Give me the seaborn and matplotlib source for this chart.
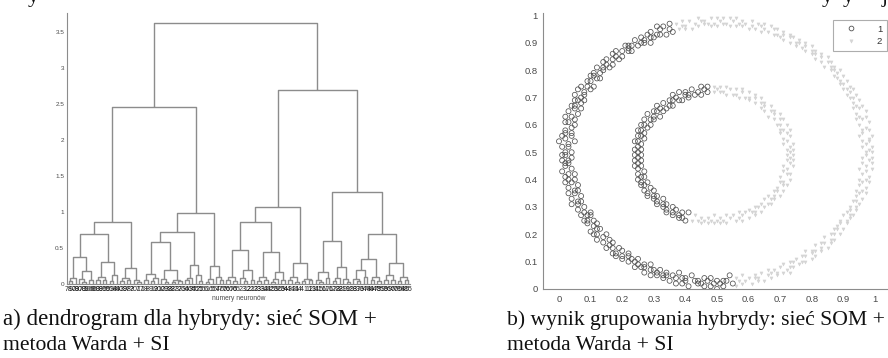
import matplotlib
matplotlib.use("Agg")
import matplotlib.pyplot as plt
from matplotlib.lines import Line2D
import seaborn as sns
import pandas as pd

# ---------------- data: dendrogram (Ward merges, heights) ----
L = None  # a leaf (one SOM neuron)
tree_A = (0.86,
          (0.70,
           (0.38, (0.08, (0.04, L, L), L), (0.18, (0.07, L, (0.03, L, L)), (0.05, L, L))),
           (0.31, (0.10, (0.05, L, L), (0.06, L, L)), (0.13, (0.04, L, L), L))),
          (0.22, (0.08, (0.04, L, L), (0.05, L, L)), (0.06, L, (0.03, L, L))))
tree_B = (0.99,
          (0.72,
           (0.58, (0.14, (0.05, L, L), (0.08, (0.04, L, L), L)),
                  (0.20, (0.07, L, (0.03, L, L)), (0.06, (0.03, L, L), (0.04, L, L)))),
           (0.27, (0.09, (0.05, L, L), L), (0.12, L, (0.04, L, L)))),
          (0.25, (0.07, (0.03, L, L), L), (0.10, L, (0.05, L, L))))
tree_C = (1.07,
          (0.86,
           (0.47, (0.10, (0.05, L, L), (0.04, L, L)), (0.19, (0.08, L, (0.04, L, L)), (0.06, L, L))),
           (0.44, (0.10, (0.04, L, L), (0.06, L, L)), (0.16, (0.07, (0.03, L, L), L), (0.05, L, L)))),
          (0.29, (0.10, (0.05, L, L), (0.03, L, L)), (0.07, (0.04, L, L), (0.05, L, L))))
tree_D = (1.28,
          (0.60, (0.17, (0.06, L, (0.03, L, L)), (0.08, L, L)),
                 (0.23, (0.09, (0.04, L, L), L), (0.07, L, (0.03, L, L)))),
          (0.69,
           (0.35, (0.20, (0.07, L, (0.04, L, L)), (0.10, L, L)), (0.10, (0.05, L, L), (0.04, L, L))),
           (0.29, (0.12, (0.05, L, L), (0.06, L, L)), (0.10, (0.04, L, L), (0.05, L, L)))))
h_left, h_right, h_root = 2.45, 2.69, 3.62

leaf_labels = [78, 90, 79, 80, 70, 89, 100, 69, 60, 88,
               99, 59, 50, 98, 49, 40, 39, 97, 87, 30,
               7, 17, 18, 8, 9, 19, 20, 10, 29, 38,
               28, 27, 37, 26, 36, 46, 35, 45, 25, 15,
               6, 16, 5, 57, 47, 67, 56, 66, 76, 65,
               2, 3, 12, 22, 13, 23, 33, 32, 43, 42,
               53, 52, 63, 54, 44, 34, 24, 14, 4, 1,
               11, 21, 31, 41, 51, 61, 71, 62, 72, 82,
               81, 91, 92, 93, 83, 73, 64, 74, 84, 94,
               75, 85, 95, 86, 96, 77, 68, 58, 48, 55]
y_ticks_a = [0, 0.5, 1, 1.5, 2, 2.5, 3, 3.5]
y_tick_labels_a = ["0", "0.5", "1", "1.5", "2", "2.5", "3", "3.5"]

# ---------------- data: clustering result ----------
grupa1_zewn = [
    (0.36,0.94),(0.34,0.93),(0.32,0.93),(0.30,0.92),(0.29,0.90),(0.27,0.90),(0.25,0.89),(0.23,0.87),
    (0.22,0.87),(0.20,0.85),(0.19,0.84),(0.17,0.82),(0.16,0.81),(0.14,0.80),(0.13,0.77),(0.12,0.77),
    (0.11,0.74),(0.10,0.73),(0.08,0.71),(0.08,0.69),(0.07,0.68),(0.07,0.66),(0.06,0.64),(0.05,0.62),
    (0.05,0.60),(0.04,0.57),(0.04,0.56),(0.05,0.54),(0.03,0.52),(0.04,0.50),
    (0.35,0.97),(0.33,0.96),(0.31,0.96),(0.29,0.94),(0.28,0.93),(0.26,0.92),(0.24,0.91),(0.22,0.89),
    (0.21,0.89),(0.18,0.87),(0.17,0.86),(0.15,0.84),(0.14,0.83),(0.12,0.81),(0.11,0.79),(0.10,0.78),
    (0.09,0.76),(0.07,0.74),(0.06,0.73),(0.05,0.71),(0.05,0.69),(0.04,0.67),(0.03,0.65),(0.02,0.63),
    (0.02,0.61),(0.02,0.58),(0.01,0.56),(0.00,0.54),(0.01,0.52),(0.01,0.49),
    (0.04,0.48),(0.03,0.46),(0.04,0.44),(0.05,0.42),(0.05,0.40),(0.06,0.38),(0.06,0.36),(0.07,0.34),
    (0.07,0.32),(0.08,0.30),(0.10,0.28),(0.10,0.27),(0.11,0.25),(0.12,0.24),(0.13,0.22),(0.15,0.20),
    (0.16,0.18),(0.17,0.17),(0.19,0.15),(0.20,0.14),(0.22,0.13),(0.23,0.11),(0.25,0.11),(0.27,0.09),
    (0.29,0.09),(0.30,0.07),(0.32,0.07),(0.34,0.06),(0.36,0.05),(0.38,0.06),(0.40,0.04),(0.42,0.05),
    (0.44,0.03),(0.46,0.04),(0.48,0.04),(0.50,0.03),
    (0.01,0.47),(0.02,0.46),(0.01,0.43),(0.02,0.41),(0.02,0.39),(0.03,0.37),(0.03,0.35),(0.04,0.33),
    (0.04,0.31),(0.06,0.29),(0.07,0.27),(0.08,0.25),(0.09,0.24),(0.10,0.21),(0.11,0.20),(0.12,0.18),
    (0.14,0.17),(0.15,0.15),(0.17,0.13),(0.18,0.12),(0.20,0.11),(0.22,0.10),(0.24,0.08),(0.26,0.08),
    (0.27,0.06),(0.29,0.05),(0.31,0.05),(0.33,0.04),(0.35,0.03),(0.37,0.02),(0.39,0.02),(0.41,0.01),
    (0.44,0.02),(0.46,0.01),(0.48,0.01),(0.50,0.00),
    (0.52,0.03),(0.54,0.05),(0.52,0.01),(0.55,0.02)]
grupa1_zewn_srodek = [
    (0.35,0.95),(0.32,0.95),(0.31,0.93),(0.29,0.92),(0.27,0.91),(0.26,0.90),(0.23,0.89),(0.22,0.88),
    (0.20,0.87),(0.18,0.85),(0.17,0.84),(0.15,0.82),(0.14,0.81),(0.13,0.79),(0.11,0.78),(0.10,0.76),
    (0.09,0.74),(0.08,0.72),(0.07,0.70),(0.06,0.69),(0.05,0.67),(0.05,0.66),(0.04,0.63),(0.03,0.61),
    (0.04,0.59),(0.02,0.57),(0.02,0.55),(0.03,0.53),(0.02,0.50),(0.02,0.49),
    (0.03,0.47),(0.02,0.45),(0.03,0.42),(0.03,0.40),(0.04,0.39),(0.05,0.36),(0.05,0.35),(0.06,0.32),
    (0.06,0.31),(0.08,0.28),(0.09,0.27),(0.09,0.25),(0.11,0.23),(0.12,0.22),(0.12,0.20),(0.14,0.19),
    (0.16,0.16),(0.17,0.15),(0.18,0.13),(0.20,0.12),(0.22,0.12),(0.24,0.10),(0.25,0.09),(0.27,0.08),
    (0.29,0.07),(0.31,0.06),(0.33,0.05),(0.34,0.05),(0.37,0.04),(0.39,0.04),(0.40,0.03),(0.43,0.03),
    (0.45,0.02),(0.47,0.03),(0.49,0.02),(0.51,0.02),(0.53,0.03)]
grupa1_wewn = [
    (0.47,0.72),(0.45,0.71),(0.43,0.71),(0.41,0.70),(0.39,0.69),(0.38,0.69),(0.36,0.67),(0.34,0.66),
    (0.33,0.65),(0.32,0.63),(0.30,0.62),(0.29,0.60),(0.28,0.59),(0.27,0.57),(0.27,0.55),(0.26,0.53),
    (0.26,0.51),(0.26,0.49),
    (0.47,0.74),(0.45,0.74),(0.42,0.73),(0.40,0.72),(0.38,0.72),(0.36,0.71),(0.35,0.69),(0.33,0.68),
    (0.31,0.67),(0.30,0.65),(0.28,0.64),(0.27,0.62),(0.26,0.60),(0.25,0.58),(0.25,0.56),(0.24,0.54),
    (0.24,0.51),(0.24,0.49),
    (0.26,0.47),(0.26,0.45),(0.27,0.43),(0.27,0.41),(0.28,0.39),(0.29,0.37),(0.30,0.36),(0.31,0.34),
    (0.33,0.33),(0.34,0.31),(0.36,0.30),(0.37,0.29),(0.39,0.28),(0.41,0.28),
    (0.24,0.47),(0.24,0.45),(0.25,0.42),(0.25,0.40),(0.26,0.38),(0.27,0.36),(0.28,0.34),(0.30,0.33),
    (0.31,0.31),(0.33,0.30),(0.34,0.28),(0.36,0.27),(0.38,0.26),(0.40,0.25)]
grupa1_wewn_srodek = [
    (0.46,0.73),(0.44,0.72),(0.41,0.71),(0.40,0.71),(0.37,0.70),(0.36,0.69),(0.35,0.67),(0.32,0.66),
    (0.31,0.65),(0.30,0.63),(0.29,0.62),(0.27,0.60),(0.26,0.58),(0.26,0.56),(0.25,0.54),(0.25,0.52),
    (0.25,0.50),(0.25,0.48),
    (0.25,0.46),(0.25,0.44),(0.26,0.41),(0.26,0.39),(0.27,0.38),(0.28,0.35),(0.30,0.34),(0.31,0.32),
    (0.33,0.31),(0.34,0.29),(0.36,0.28),(0.38,0.27),(0.39,0.26)]
grupa2_zewn = [
    (0.56,0.04),(0.58,0.05),(0.60,0.04),(0.62,0.05),(0.64,0.06),(0.66,0.07),(0.68,0.07),(0.70,0.08),
    (0.71,0.09),(0.73,0.10),(0.75,0.11),(0.77,0.12),(0.78,0.14),(0.80,0.14),(0.81,0.16),(0.83,0.17),
    (0.84,0.19),(0.86,0.20),(0.87,0.22),(0.88,0.23),(0.89,0.25),(0.90,0.27),(0.91,0.28),(0.92,0.30),
    (0.93,0.32),(0.94,0.34),(0.94,0.36),(0.95,0.38),(0.95,0.40),(0.96,0.42),(0.95,0.44),(0.96,0.46),
    (0.96,0.48),(0.97,0.50),
    (0.56,0.01),(0.58,0.02),(0.61,0.02),(0.63,0.03),(0.65,0.03),(0.67,0.04),(0.69,0.05),(0.71,0.06),
    (0.73,0.06),(0.74,0.08),(0.76,0.09),(0.78,0.10),(0.80,0.11),(0.81,0.12),(0.83,0.14),(0.85,0.15),
    (0.86,0.17),(0.87,0.18),(0.89,0.20),(0.90,0.22),(0.91,0.24),(0.92,0.26),(0.93,0.27),(0.94,0.29),
    (0.95,0.31),(0.96,0.33),(0.97,0.35),(0.97,0.37),(0.98,0.39),(0.98,0.41),(0.99,0.44),(0.99,0.46),
    (0.99,0.48),(0.99,0.50),
    (0.96,0.52),(0.96,0.54),(0.95,0.56),(0.96,0.58),(0.95,0.60),(0.94,0.62),(0.94,0.64),(0.93,0.66),
    (0.93,0.68),(0.92,0.70),(0.91,0.71),(0.90,0.73),(0.89,0.75),(0.88,0.77),(0.87,0.78),(0.86,0.80),
    (0.84,0.81),(0.83,0.83),(0.81,0.84),(0.80,0.86),(0.78,0.87),(0.77,0.88),(0.75,0.89),(0.73,0.90),
    (0.71,0.91),(0.70,0.92),(0.68,0.93),(0.66,0.94),(0.64,0.94),(0.62,0.95),(0.60,0.95),(0.58,0.96),
    (0.56,0.96),(0.54,0.96),(0.52,0.97),(0.50,0.96),
    (0.99,0.52),(0.98,0.54),(0.99,0.56),(0.98,0.58),(0.98,0.61),(0.97,0.63),(0.97,0.65),(0.96,0.67),
    (0.95,0.69),(0.94,0.71),(0.93,0.73),(0.92,0.74),(0.91,0.76),(0.90,0.78),(0.89,0.80),(0.87,0.81),
    (0.86,0.83),(0.85,0.85),(0.83,0.86),(0.81,0.87),(0.80,0.89),(0.78,0.90),(0.76,0.91),(0.74,0.92),
    (0.73,0.93),(0.71,0.94),(0.69,0.95),(0.67,0.96),(0.65,0.97),(0.63,0.97),(0.61,0.98),(0.58,0.98),
    (0.56,0.99),(0.54,0.99),(0.52,0.99),(0.50,0.99),
    (0.48,0.96),(0.46,0.97),(0.44,0.96),(0.42,0.95),(0.40,0.95),(0.38,0.95),
    (0.48,0.99),(0.46,0.98),(0.44,0.99),(0.41,0.98),(0.39,0.98),(0.37,0.97)]
grupa2_zewn_srodek = [
    (0.57,0.03),(0.59,0.03),(0.62,0.04),(0.63,0.04),(0.66,0.05),(0.67,0.06),(0.69,0.06),(0.72,0.07),
    (0.73,0.08),(0.74,0.10),(0.77,0.10),(0.78,0.12),(0.80,0.13),(0.81,0.14),(0.83,0.15),(0.84,0.17),
    (0.86,0.18),(0.87,0.20),(0.88,0.22),(0.89,0.24),(0.91,0.25),(0.92,0.27),(0.92,0.29),(0.94,0.30),
    (0.94,0.32),(0.95,0.35),(0.96,0.36),(0.96,0.39),(0.97,0.40),(0.97,0.43),(0.97,0.45),(0.98,0.47),
    (0.97,0.49),(0.98,0.51),
    (0.97,0.53),(0.98,0.55),(0.96,0.57),(0.97,0.59),(0.96,0.62),(0.95,0.63),(0.95,0.66),(0.94,0.67),
    (0.93,0.70),(0.92,0.72),(0.91,0.73),(0.90,0.75),(0.89,0.76),(0.88,0.79),(0.87,0.80),(0.86,0.81),
    (0.85,0.83),(0.83,0.85),(0.81,0.86),(0.80,0.87),(0.78,0.89),(0.76,0.90),(0.75,0.90),(0.73,0.92),
    (0.71,0.93),(0.69,0.93),(0.68,0.95),(0.65,0.95),(0.64,0.96),(0.61,0.96),(0.59,0.97),(0.57,0.97),
    (0.55,0.98),(0.53,0.97),(0.51,0.98),(0.49,0.97),
    (0.47,0.97),(0.45,0.98),(0.43,0.97),(0.40,0.96),(0.39,0.96)]
grupa2_wewn = [
    (0.43,0.27),(0.45,0.26),(0.47,0.26),(0.49,0.27),(0.51,0.26),(0.53,0.27),(0.55,0.27),(0.57,0.28),
    (0.59,0.28),(0.60,0.29),(0.62,0.30),(0.64,0.31),(0.65,0.33),(0.66,0.34),(0.68,0.36),(0.69,0.37),
    (0.70,0.39),(0.70,0.41),(0.71,0.43),(0.71,0.45),(0.72,0.47),(0.72,0.49),(0.72,0.51),(0.71,0.53),
    (0.71,0.55),(0.70,0.57),(0.70,0.58),(0.69,0.60),(0.68,0.62),(0.66,0.63),(0.65,0.65),(0.64,0.66),
    (0.62,0.68),(0.60,0.69),(0.59,0.70),(0.57,0.70),(0.55,0.71),(0.53,0.71),(0.51,0.72),(0.49,0.72),
    (0.42,0.25),(0.45,0.24),(0.47,0.24),(0.49,0.24),(0.51,0.24),(0.53,0.24),(0.56,0.25),(0.58,0.25),
    (0.60,0.26),(0.62,0.27),(0.64,0.28),(0.65,0.30),(0.67,0.31),(0.68,0.33),(0.70,0.34),(0.71,0.36),
    (0.72,0.38),(0.73,0.40),(0.73,0.42),(0.74,0.45),(0.74,0.47),(0.74,0.49),(0.74,0.51),(0.74,0.53),
    (0.73,0.56),(0.73,0.58),(0.72,0.60),(0.71,0.62),(0.70,0.64),(0.68,0.65),(0.67,0.67),(0.65,0.68),
    (0.64,0.70),(0.62,0.71),(0.60,0.72),(0.58,0.73),(0.56,0.73),(0.53,0.74),(0.51,0.74),(0.49,0.74)]
grupa2_wewn_srodek = [
    (0.44,0.25),(0.46,0.25),(0.48,0.25),(0.50,0.25),(0.52,0.25),(0.54,0.26),(0.57,0.26),(0.58,0.27),
    (0.61,0.28),(0.62,0.28),(0.63,0.30),(0.66,0.31),(0.67,0.33),(0.68,0.34),(0.69,0.36),(0.71,0.38),
    (0.71,0.39),(0.72,0.42),(0.72,0.44),(0.73,0.46),(0.73,0.48),(0.73,0.50),(0.73,0.52),(0.72,0.54),
    (0.72,0.57),(0.71,0.58),(0.70,0.60),(0.70,0.62),(0.68,0.64),(0.67,0.65),(0.65,0.67),(0.64,0.68),
    (0.62,0.70),(0.60,0.70),(0.58,0.72),(0.56,0.71),(0.54,0.73),(0.52,0.72),(0.50,0.73)]
xy_ticks_b = [0, 0.1, 0.2, 0.3, 0.4, 0.5, 0.6, 0.7, 0.8, 0.9, 1]
xy_tick_labels_b = ["0", "0.1", "0.2", "0.3", "0.4", "0.5", "0.6", "0.7", "0.8", "0.9", "1"]
legend_labels = ["1", "2"]

caption_a = ["a) dendrogram dla hybrydy: sieć SOM +", "metoda Warda + SI"]
caption_b = ["b) wynik grupowania hybrydy: sieć SOM +", "metoda Warda + SI"]
# descender fragments of the cut-off text line above the figure
fragments_top = ["y", "y", "y", "j"]

# ---------------- style ---------------------------------------------------------
sns.set_style("white")
plt.rcParams["font.family"] = ["Liberation Sans", "DejaVu Sans"]
TXT = "#4a4a4a"
LINE = "#8c8c8c"

fig = plt.figure(figsize=(8.88, 3.58), dpi=100)
fig.patch.set_facecolor("white")

# ---------------- (a) dendrogram -----------------------------------------------
ax1 = fig.add_axes([67 / 888, 1 - 284 / 358, 343 / 888, 271 / 358])
root = (h_root, (h_left, tree_A, tree_B), (h_right, tree_C, tree_D))
xs, ys = [], []
counter = [0]


def walk(node):
    if node is None:
        counter[0] += 1
        return float(counter[0]), 0.0
    h, left, right = node
    xl, hl = walk(left)
    xr, hr = walk(right)
    xs.extend([xl, xl, xr, xr, None])
    ys.extend([hl, h, h, hr, None])
    return (xl + xr) / 2.0, h


walk(root)
ax1.plot(xs, ys, color=LINE, lw=1.0, solid_capstyle="butt")
ax1.set_xlim(0.5, len(leaf_labels) + 0.5)
ax1.set_ylim(0, 3.76)
ax1.set_xticks(range(1, len(leaf_labels) + 1))
ax1.set_xticklabels([str(v) for v in leaf_labels], fontsize=5.0, color="#222222")
ax1.tick_params(axis="x", length=0, pad=1.2)
ax1.set_yticks(y_ticks_a)
ax1.set_yticklabels(y_tick_labels_a, fontsize=4.6, color=TXT)
ax1.tick_params(axis="y", length=2.5, width=0.6, color=LINE, direction="in", pad=2)
ax1.set_xlabel("numery neuronów", fontsize=4.8, color=TXT, labelpad=1.5)
for s in ["top", "right"]:
    ax1.spines[s].set_visible(False)
for s in ["left", "bottom"]:
    ax1.spines[s].set_color(LINE)
    ax1.spines[s].set_linewidth(0.8)

# ---------------- (b) scatter ----------------------------------------------------
ax2 = fig.add_axes([543 / 888, 1 - 289 / 358, 344 / 888, 276 / 358])
df1 = pd.DataFrame(grupa1_zewn + grupa1_zewn_srodek + grupa1_wewn + grupa1_wewn_srodek,
                   columns=["x", "y"])
df2 = pd.DataFrame(grupa2_zewn + grupa2_zewn_srodek + grupa2_wewn + grupa2_wewn_srodek,
                   columns=["x", "y"])
sns.scatterplot(data=df2, x="x", y="y", ax=ax2, marker="v", s=5, color="#d6d6d6",
                edgecolor="#cfcfcf", linewidth=0.3, legend=False, zorder=2)
sns.scatterplot(data=df1, x="x", y="y", ax=ax2, marker="o", s=13, facecolors="none",
                edgecolor="#505050", linewidth=0.55, legend=False, zorder=3)
ax2.set_xlim(-16 / 316, -16 / 316 + 344 / 316)
ax2.set_ylim(0, 276 / 273.5)
ax2.set_xticks(xy_ticks_b)
ax2.set_xticklabels(xy_tick_labels_b, fontsize=6.8, color=TXT)
ax2.set_yticks(xy_ticks_b)
ax2.set_yticklabels(xy_tick_labels_b, fontsize=6.8, color=TXT)
ax2.tick_params(length=2.5, width=0.6, color=LINE, direction="in", pad=4)
ax2.set_xlabel("")
ax2.set_ylabel("")
for s in ["top", "right"]:
    ax2.spines[s].set_visible(False)
for s in ["left", "bottom"]:
    ax2.spines[s].set_color(LINE)
    ax2.spines[s].set_linewidth(0.8)

handles = [Line2D([], [], ls="", marker="o", ms=3.4, mfc="none", mec="#505050", mew=0.6),
           Line2D([], [], ls="", marker="v", ms=2.4, mfc="#d6d6d6", mec="#cfcfcf", mew=0.3)]
leg = ax2.legend(handles, legend_labels, loc="upper right", bbox_to_anchor=(1.0, 0.975),
                 fontsize=6.8, frameon=True, fancybox=False, edgecolor="#999999",
                 handlelength=3.0, handletextpad=1.2, borderpad=0.5, labelspacing=0.4,
                 borderaxespad=0.0)
leg.get_frame().set_linewidth(0.8)
for t in leg.get_texts():
    t.set_color("#333333")

# ---------------- captions -------------------------------------------------------
serif = ["Liberation Serif", "DejaVu Serif"]
fig.text(3 / 888, 1 - 325 / 358, caption_a[0], family=serif, fontsize=16.6, color="#111111", va="baseline")
fig.text(3 / 888, 1 - 350 / 358, caption_a[1], family=serif, fontsize=15.6, color="#111111", va="baseline")
fig.text(507 / 888, 1 - 325 / 358, caption_b[0], family=serif, fontsize=15.6, color="#111111", va="baseline")
fig.text(507 / 888, 1 - 350 / 358, caption_b[1], family=serif, fontsize=15.6, color="#111111", va="baseline")

frag_x = [28, 822, 843, 882]
for fx, ft in zip(frag_x, fragments_top):
    fig.text(fx / 888, 1 - 2 / 358, ft, family=serif, fontsize=15.6, color="#111111", va="baseline")

fig.savefig("out.png", dpi=100)
